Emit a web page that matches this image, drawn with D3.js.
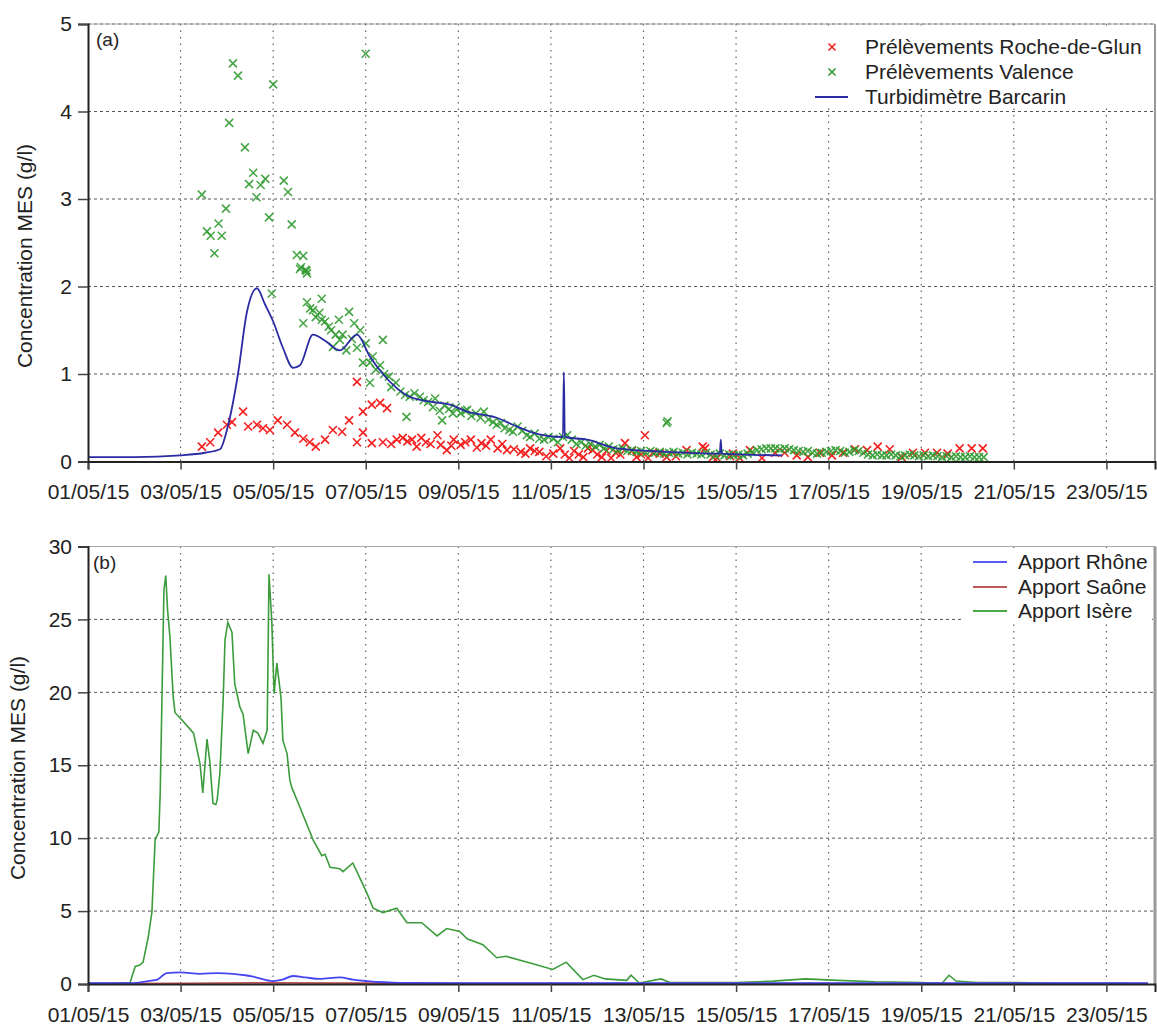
<!DOCTYPE html>
<html><head><meta charset="utf-8">
<script src="https://cdn.jsdelivr.net/npm/d3@7"></script>
<style>
body{margin:0;background:#fff}
text{font-family:"Liberation Sans",Arial,Helvetica,sans-serif;fill:#222}
</style>
</head><body>
<svg id="chart" width="1157" height="1026"></svg>
<script>
// ---------- DATA (days after 01/05/15 00:00, values in g/l) ----------
const xTickLabels = ["01/05/15","03/05/15","05/05/15","07/05/15","09/05/15","11/05/15","13/05/15","15/05/15","17/05/15","19/05/15","21/05/15","23/05/15"];
const yTicksA = [0,1,2,3,4,5];
const yTicksB = [0,5,10,15,20,25,30];
const seriesNamesA = ["Prélèvements Roche-de-Glun","Prélèvements Valence","Turbidimètre Barcarin"];
const seriesNamesB = ["Apport Rhône","Apport Saône","Apport Isère"];

const turbDays = [0,1.0,2.0,2.53,2.85,3.02,3.24,3.43,3.65,3.82,4.0,4.21,4.43,4.58,4.86,5.12,5.44,5.81,6.09,6.37,6.95,7.45,7.82,8.19,8.83,9.18,9.61,10.26,10.28,10.30,10.78,11.43,12.5,13.65,13.67,13.69,15.0];
const turbVals = [0.05,0.05,0.07,0.10,0.14,0.40,1.0,1.7,1.98,1.8,1.6,1.3,1.07,1.1,1.45,1.38,1.27,1.45,1.2,1.0,0.74,0.68,0.65,0.57,0.5,0.42,0.33,0.28,1.02,0.28,0.25,0.15,0.11,0.09,0.25,0.09,0.07];

const rocheDays = [2.46,2.64,2.81,3.00,3.11,3.35,3.46,3.65,3.78,3.93,4.10,4.30,4.47,4.65,4.79,4.92,5.12,5.29,5.49,5.64,5.81,5.81,5.94,5.94,6.13,6.31,6.46,6.13,6.37,6.55,6.67,6.80,6.90,7.00,7.10,7.20,7.30,7.40,7.55,7.62,7.75,7.85,7.90,8.05,8.15,8.27,8.40,8.50,8.60,8.70,8.85,8.95,9.05,9.20,9.35,9.45,9.55,9.65,9.75,9.90,10.05,10.20,10.30,10.40,10.50,10.60,10.70,10.80,10.90,11.00,11.10,11.20,11.30,11.40,11.50,11.60,11.75,11.85,11.95,12.03,12.10,12.20,12.35,12.50,12.70,12.93,13.28,13.33,13.50,13.59,13.87,13.93,14.08,14.30,14.56,14.84,15.05,15.31,15.55,15.81,16.07,16.31,16.57,16.83,17.06,17.32,17.58,17.82,18.08,18.34,18.57,18.83,19.09,19.33];
const rocheVals = [0.17,0.22,0.33,0.42,0.45,0.57,0.40,0.42,0.38,0.36,0.47,0.42,0.33,0.26,0.22,0.17,0.25,0.36,0.34,0.47,0.91,0.22,0.57,0.33,0.65,0.67,0.61,0.21,0.22,0.20,0.25,0.27,0.23,0.25,0.17,0.27,0.22,0.20,0.30,0.19,0.13,0.18,0.25,0.19,0.22,0.25,0.16,0.21,0.18,0.25,0.15,0.20,0.13,0.14,0.11,0.09,0.15,0.12,0.11,0.06,0.09,0.15,0.08,0.04,0.12,0.08,0.05,0.15,0.13,0.08,0.05,0.12,0.04,0.10,0.08,0.21,0.12,0.05,0.08,0.30,0.04,0.10,0.09,0.05,0.06,0.13,0.17,0.15,0.05,0.04,0.06,0.09,0.04,0.13,0.04,0.10,0.10,0.07,0.05,0.10,0.07,0.10,0.14,0.13,0.17,0.14,0.05,0.10,0.10,0.10,0.09,0.15,0.15,0.15];

const valenceDays = [2.46,2.57,2.65,2.73,2.82,2.89,2.98,3.05,3.13,3.24,3.39,3.48,3.57,3.64,3.73,3.83,3.91,3.97,4.00,4.23,4.32,4.40,4.51,4.58,4.60,4.65,4.70,4.72,4.73,4.65,4.73,4.80,4.86,4.92,5.00,5.05,5.05,5.12,5.20,5.25,5.29,5.35,5.42,5.44,5.50,5.58,5.64,5.70,5.75,5.81,5.88,5.94,6.00,6.00,6.09,6.09,6.15,6.22,6.31,6.37,6.40,6.50,6.55,6.65,6.75,6.85,6.88,6.95,7.05,7.17,7.25,7.35,7.45,7.50,7.60,7.65,7.70,7.80,7.88,7.95,8.05,8.15,8.19,8.28,8.38,8.48,8.55,8.65,8.75,8.83,8.92,9.00,9.10,9.18,9.28,9.38,9.48,9.55,9.65,9.75,9.85,9.95,10.05,10.15,10.26,10.35,10.45,10.55,10.65,10.75,10.85,10.96,11.05,11.15,11.25,11.35,11.45,11.55,11.65,11.75,11.85,11.95,12.05,12.15,12.25,12.35,12.45,12.50,12.52,12.55,12.65,12.75,12.85,12.95,13.05,13.15,13.25,13.35,13.45,13.55,13.65,13.75,13.85,13.95,14.05,14.15,14.25,14.35,14.45,14.55,14.65,14.75,14.85,14.95,15.05,15.15,15.25,15.35,15.45,15.55,15.65,15.75,15.85,15.95,16.05,16.15,16.25,16.35,16.45,16.55,16.65,16.75,16.85,16.95,17.05,17.15,17.25,17.35,17.45,17.55,17.65,17.75,17.85,17.95,18.05,18.15,18.25,18.35,18.45,18.55,18.65,18.75,18.85,18.95,19.05,19.15,19.25,19.35];
const valenceVals = [3.05,2.63,2.58,2.38,2.72,2.58,2.89,3.87,4.55,4.41,3.59,3.17,3.30,3.02,3.16,3.23,2.79,1.92,4.31,3.21,3.08,2.71,2.36,2.20,2.22,2.35,2.19,2.18,2.15,1.58,1.82,1.75,1.73,1.65,1.70,1.86,1.62,1.60,1.54,1.50,1.31,1.45,1.62,1.39,1.45,1.27,1.71,1.40,1.58,1.30,1.50,1.13,4.66,1.35,1.13,0.90,1.20,1.05,1.10,1.39,1.00,0.97,0.85,0.90,0.80,0.76,0.51,0.74,0.78,0.74,0.70,0.68,0.62,0.72,0.58,0.47,0.64,0.60,0.55,0.62,0.55,0.58,0.59,0.52,0.55,0.50,0.57,0.48,0.45,0.42,0.44,0.38,0.36,0.34,0.40,0.35,0.30,0.28,0.32,0.26,0.25,0.28,0.26,0.22,0.28,0.30,0.25,0.20,0.22,0.18,0.20,0.17,0.19,0.15,0.17,0.14,0.13,0.15,0.12,0.13,0.11,0.12,0.10,0.12,0.10,0.11,0.09,0.44,0.46,0.10,0.11,0.09,0.10,0.08,0.10,0.09,0.08,0.10,0.08,0.07,0.09,0.07,0.08,0.07,0.08,0.07,0.09,0.11,0.13,0.14,0.15,0.15,0.15,0.14,0.15,0.14,0.13,0.12,0.11,0.12,0.10,0.09,0.10,0.11,0.12,0.13,0.12,0.10,0.11,0.13,0.12,0.10,0.08,0.07,0.08,0.07,0.07,0.08,0.07,0.06,0.07,0.08,0.07,0.06,0.07,0.06,0.07,0.06,0.05,0.06,0.05,0.06,0.05,0.05,0.06,0.05,0.05,0.05,0.05,0.05];

const isereDays = [0,0.5,0.91,1.02,1.12,1.19,1.30,1.38,1.45,1.51,1.53,1.56,1.61,1.64,1.68,1.72,1.77,1.84,1.88,2.03,2.28,2.42,2.48,2.57,2.63,2.70,2.76,2.79,2.85,2.92,2.96,3.02,3.11,3.17,3.28,3.35,3.46,3.57,3.67,3.78,3.87,3.91,3.97,4.02,4.08,4.17,4.21,4.30,4.36,4.40,4.58,4.86,5.05,5.12,5.23,5.44,5.51,5.72,5.87,6.03,6.16,6.37,6.67,6.89,7.21,7.54,7.75,8.03,8.19,8.53,8.83,9.03,9.59,10.04,10.33,10.69,10.93,11.17,11.64,11.73,11.91,12.38,12.57,13.0,14.0,14.8,15.5,16.2,17.0,18.0,18.45,18.6,18.75,19.2,20.0,21.0,22.5];
const isereVals = [0.05,0.05,0.1,1.2,1.3,1.5,3.2,4.9,9.9,10.3,10.4,13.1,21.7,27.0,28.0,25.6,23.8,19.7,18.6,18.1,17.2,15.1,13.1,16.8,15.3,12.4,12.3,12.6,14.5,19.5,23.6,24.8,24.1,20.6,19.0,18.5,15.8,17.4,17.2,16.5,17.4,28.1,24.9,19.9,22.0,19.6,16.7,15.8,14.0,13.5,12.1,9.9,8.8,8.9,8.0,7.9,7.7,8.3,7.3,6.2,5.2,4.9,5.2,4.2,4.2,3.3,3.8,3.6,3.1,2.7,1.8,1.9,1.4,1.0,1.5,0.3,0.6,0.35,0.25,0.6,0.07,0.35,0.1,0.1,0.1,0.2,0.35,0.25,0.15,0.1,0.05,0.6,0.2,0.1,0.1,0.05,0.05];

const rhoneDays = [0,0.9,1.1,1.3,1.5,1.62,1.7,2.0,2.42,2.8,3.13,3.4,3.57,4.0,4.2,4.43,4.7,5.0,5.44,5.72,6.03,6.4,6.74,8.0,22.9];
const rhoneVals = [0.05,0.05,0.1,0.2,0.3,0.6,0.75,0.8,0.7,0.75,0.7,0.6,0.5,0.2,0.3,0.55,0.45,0.35,0.45,0.3,0.2,0.12,0.08,0.05,0.05];

const saoneDays = [0,2,4,6,8,22.9];
const saoneVals = [0.03,0.05,0.08,0.06,0.04,0.03];

// ---------- DRAWING ----------
const parse = d3.utcParse("%d/%m/%y");
const t0 = parse(xTickLabels[0]);
const toDate = d => new Date(t0.getTime() + d * 864e5);
const xTicks = xTickLabels.map(parse);
const fmt = d3.utcFormat("%d/%m/%y");

const svg = d3.select("#chart");
svg.append("rect").attr("width",1157).attr("height",1026).attr("fill","#fff");

const X0 = 88, X1 = 1155;
const x = d3.scaleUtc().domain([t0, toDate(23.05)]).range([X0, X1]);

const FS = 21;

function panel(cfg){
  const y = d3.scaleLinear().domain(cfg.ydom).range([cfg.yb, cfg.yt]);
  const g = svg.append("g");
  g.append("g").selectAll("line").data(cfg.yticks.filter(v=>v>0)).join("line")
    .attr("x1",X0).attr("x2",X1).attr("y1",d=>y(d)).attr("y2",d=>y(d))
    .attr("stroke","#555").attr("stroke-width",1).attr("stroke-dasharray","3,3");
  g.append("g").selectAll("line").data(xTicks.slice(1)).join("line")
    .attr("x1",d=>x(d)).attr("x2",d=>x(d)).attr("y1",cfg.yt).attr("y2",cfg.yb)
    .attr("stroke","#555").attr("stroke-width",1.1).attr("stroke-dasharray","1.5,5");
  g.append("line").attr("x1",X0).attr("x2",X1).attr("y1",cfg.yt).attr("y2",cfg.yt).attr("stroke","#aaa").attr("stroke-width",1);
  g.append("line").attr("x1",X1).attr("x2",X1).attr("y1",cfg.yt).attr("y2",cfg.yb).attr("stroke","#999").attr("stroke-width",cfg.rw);

  const plot = g.append("g");
  cfg.draw(plot, y);

  const lg = g.append("g");
  lg.append("rect").attr("x",cfg.lbox[0]).attr("y",cfg.lbox[1]).attr("width",cfg.lbox[2]).attr("height",cfg.lbox[3]).attr("fill","#fff");
  cfg.legend(lg);

  const ax = g.append("g").attr("transform",`translate(0,${cfg.yb})`)
    .call(d3.axisBottom(x).tickValues(xTicks).tickFormat(fmt).tickSize(8).tickPadding(15));
  ax.select(".domain").attr("stroke","#222").attr("stroke-width",2);
  ax.selectAll(".tick line").attr("stroke","#444").attr("stroke-width",1.5);
  ax.selectAll("text").attr("font-size",FS).attr("font-family",null).style("fill","#222");
  const ay = g.append("g").attr("transform",`translate(${X0},0)`)
    .call(d3.axisLeft(y).tickValues(cfg.yticks).tickFormat(d3.format("d")).tickSize(10).tickPadding(6));
  ay.select(".domain").attr("stroke","#222").attr("stroke-width",2);
  ay.selectAll(".tick line").attr("stroke","#444").attr("stroke-width",1.5);
  ay.selectAll("text").attr("font-size",FS).attr("font-family",null).style("fill","#222");

  g.append("text").attr("transform",`translate(${cfg.titleX},${cfg.titleY}) rotate(-90)`)
    .attr("text-anchor","middle").attr("font-size",FS).text("Concentration MES (g/l)");
  g.append("text").attr("x",cfg.labX).attr("y",cfg.labY).attr("font-size",19).text(cfg.label);
}

const cross = "M-4,-4L4,4M-4,4L4,-4";
const RED = "#f42020", GREEN = "#2f9a2f", NAVY = "#2b2ba3";

panel({
  ydom:[0,5], yt:24, yb:461.5, yticks:yTicksA, rw:2,
  titleX:32, titleY:256, labX:96, labY:46, label:"(a)",
  lbox:[808,26,344,80],
  draw:(p,y)=>{
    const line = d3.line().x(d=>x(toDate(d[0]))).y(d=>y(d[1]));
    p.append("g").selectAll("path").data(d3.zip(rocheDays,rocheVals)).join("path")
      .attr("d",cross).attr("transform",d=>`translate(${x(toDate(d[0]))},${y(d[1])})`)
      .attr("stroke",RED).attr("stroke-width",1.6).attr("fill","none");
    p.append("g").selectAll("path").data(d3.zip(valenceDays,valenceVals)).join("path")
      .attr("d",cross).attr("transform",d=>`translate(${x(toDate(d[0]))},${y(d[1])})`)
      .attr("stroke",GREEN).attr("stroke-width",1.5).attr("fill","none").attr("opacity",0.9);
    p.append("path").datum(d3.zip(turbDays,turbVals)).attr("d",line.curve(d3.curveMonotoneX))
      .attr("fill","none").attr("stroke",NAVY).attr("stroke-width",1.8);
  },
  legend:(lg)=>{
    const rows=[47,72,97];
    lg.append("path").attr("d","M-3.5,-3.5L3.5,3.5M-3.5,3.5L3.5,-3.5").attr("transform",`translate(832,${rows[0]})`).attr("stroke",RED).attr("stroke-width",1.6);
    lg.append("path").attr("d","M-3.5,-3.5L3.5,3.5M-3.5,3.5L3.5,-3.5").attr("transform",`translate(832,${rows[1]})`).attr("stroke",GREEN).attr("stroke-width",1.6);
    lg.append("line").attr("x1",815).attr("x2",848).attr("y1",rows[2]).attr("y2",rows[2]).attr("stroke",NAVY).attr("stroke-width",2);
    seriesNamesA.forEach((n,i)=>lg.append("text").attr("x",865).attr("y",rows[i]).attr("dy","0.35em").attr("font-size",FS).text(n));
  }
});

panel({
  ydom:[0,30], yt:546.5, yb:984, yticks:yTicksB, rw:3,
  titleX:25, titleY:768, labX:93, labY:569, label:"(b)",
  lbox:[962,548,190,76],
  draw:(p,y)=>{
    const line = d3.line().x(d=>x(toDate(d[0]))).y(d=>y(d[1]));
    p.append("path").datum(d3.zip(isereDays,isereVals)).attr("d",line)
      .attr("fill","none").attr("stroke","#3c9c3c").attr("stroke-width",1.6);
    p.append("path").datum(d3.zip(saoneDays,saoneVals)).attr("d",line)
      .attr("fill","none").attr("stroke","#c05050").attr("stroke-width",1.6);
    p.append("path").datum(d3.zip(rhoneDays,rhoneVals)).attr("d",line.curve(d3.curveMonotoneX))
      .attr("fill","none").attr("stroke","#4545f5").attr("stroke-width",1.8);
  },
  legend:(lg)=>{
    const rows=[562,587,611];
    const cols=["#5a5af5","#c05a5a","#4aa84a"];
    rows.forEach((r,i)=>{
      lg.append("line").attr("x1",973).attr("x2",1007).attr("y1",r).attr("y2",r).attr("stroke",cols[i]).attr("stroke-width",2.2);
      lg.append("text").attr("x",1018).attr("y",r).attr("dy","0.35em").attr("font-size",FS).text(seriesNamesB[i]);
    });
  }
});
</script>
</body></html>
